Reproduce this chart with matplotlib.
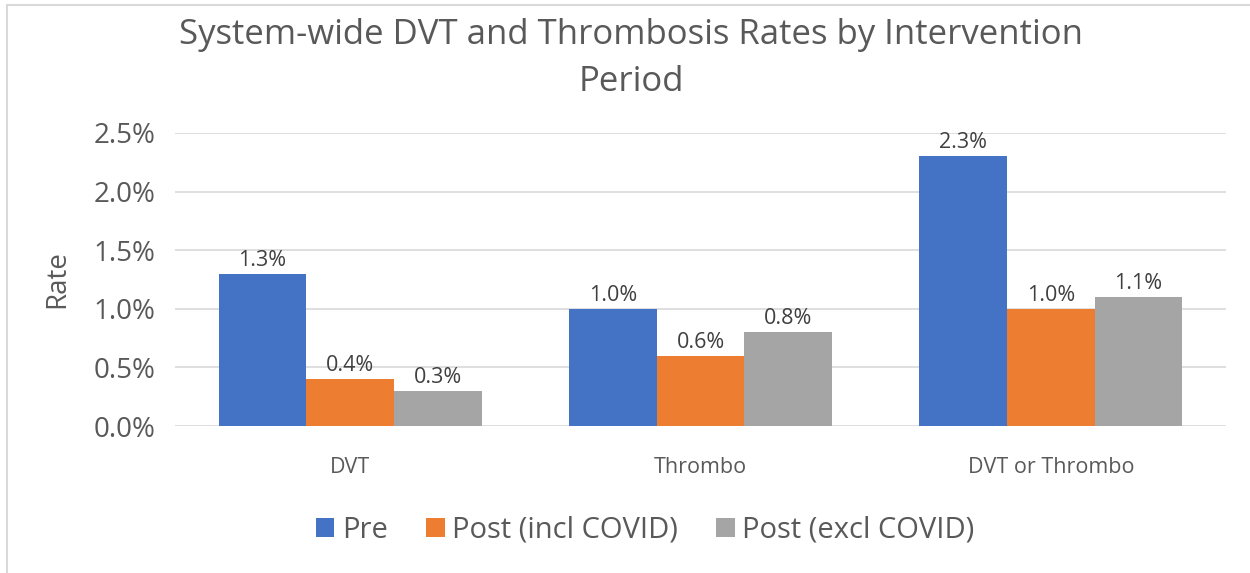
import matplotlib
matplotlib.use("Agg")
import matplotlib.pyplot as plt
from matplotlib.patches import Rectangle
from matplotlib.ticker import FuncFormatter
import numpy as np

categories = ["DVT", "Thrombo", "DVT or Thrombo"]
series_names = ["Pre", "Post (incl COVID)", "Post (excl COVID)"]
pre = [1.3, 1.0, 2.3]
post_incl = [0.4, 0.6, 1.0]
post_excl = [0.3, 0.8, 1.1]
yticks = [0.0, 0.5, 1.0, 1.5, 2.0, 2.5]
colors = ["#4472C4", "#ED7D31", "#A5A5A5"]

plt.rcParams['font.family'] = ['Open Sans', 'DejaVu Sans']
txt = "#595959"

fig = plt.figure(figsize=(12.5, 5.73), dpi=100)
ax = fig.add_axes([0.14, 0.2565, 0.8408, 0.5115])

x = np.arange(len(categories))
w = 0.25
for i, (vals, c, name) in enumerate(zip([pre, post_incl, post_excl], colors, series_names)):
    bars = ax.bar(x + (i - 1) * w, vals, w, color=c, label=name, zorder=3)
    for b, v in zip(bars, vals):
        ax.text(b.get_x() + b.get_width() / 2, v + 0.025, f"{v:.1f}%",
                ha="center", va="bottom", fontsize=15.5, color="#404040")

ax.set_xlim(-0.5, 2.5)
ax.set_ylim(0, 2.5)
ax.set_yticks(yticks)
ax.yaxis.set_major_formatter(FuncFormatter(lambda v, p: f"{v:.1f}%"))
ax.set_xticks(x)
ax.set_xticklabels(categories)
ax.grid(axis="y", color="#D9D9D9", linewidth=1.2, zorder=0)
for s in ax.spines.values():
    s.set_visible(False)
ax.tick_params(axis="both", length=0, colors=txt)
ax.tick_params(axis="y", labelsize=20, pad=14)
ax.tick_params(axis="x", labelsize=15.5, pad=22)
ax.set_ylabel("Rate", fontsize=20, color=txt, labelpad=16)

fig.text(0.505, 0.898, "System-wide DVT and Thrombosis Rates by Intervention\nPeriod",
         ha="center", va="center", fontsize=25, color=txt, linespacing=1.5)

leg = ax.legend(loc="center", bbox_to_anchor=(0.447, -0.355), ncol=3, frameon=False,
                fontsize=21, handlelength=0.65, handleheight=0.65, handletextpad=0.25,
                columnspacing=1.3)
for t in leg.get_texts():
    t.set_color(txt)

fig.patches.append(Rectangle((7 / 1250, -0.1), 1.2, 1.1 - 5 / 573,
                             transform=fig.transFigure, fill=False,
                             edgecolor="#D9D9D9", linewidth=1.5))

fig.savefig("out.png", dpi=100)
